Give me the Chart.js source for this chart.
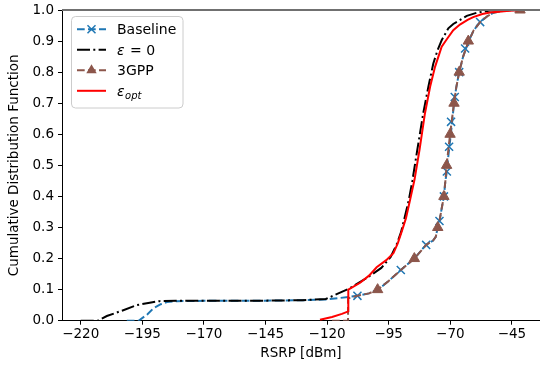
<!DOCTYPE html>
<html>
<head>
<meta charset="utf-8">
<script src="https://cdn.jsdelivr.net/npm/chart.js@4/dist/chart.umd.min.js"></script>
<style>
  html, body { margin: 0; padding: 0; background: #fff; overflow: hidden; }
  canvas { display: block; }
</style>
</head>
<body>
<canvas id="container" width="540" height="366"></canvas>
<script>
const ctx = document.getElementById("container");

// axis ticks
const xTicks = [-220, -195, -170, -145, -120, -95, -70, -45];
const yTicks = [0, 0.1, 0.2, 0.3, 0.4, 0.5, 0.6, 0.7, 0.8, 0.9, 1.0];

// Baseline curve
const baselineX = [-201.3, -196.5, -193, -190.5, -187.5, -185, -181, -170, -150, -130, -121, -115, -107.7, -103, -99.5, -95, -90.1, -84.6, -79.8, -77, -75.9, -75.1, -74.4, -73.3, -72.6, -72.0, -71.4, -70.8, -70.3, -69.8, -69.2, -68.5, -67.6, -66.4, -64.8, -62.7, -60.5, -57.9, -55, -52.6, -47.1, -41.7];
const baselineY = [0, 0, 0.02, 0.04, 0.053, 0.06, 0.063, 0.064, 0.064, 0.066, 0.068, 0.073, 0.08, 0.088, 0.099, 0.128, 0.163, 0.2, 0.244, 0.258, 0.27, 0.3, 0.321, 0.37, 0.4, 0.45, 0.48, 0.53, 0.565, 0.6, 0.644, 0.7, 0.75, 0.8, 0.85, 0.897, 0.935, 0.961, 0.98, 0.991, 0.999, 1.0];
const baselineMarkX = [-107.7, -90.1, -79.8, -74.4, -72.6, -71.4, -70.5, -69.7, -68.2, -66.4, -64.0, -57.9];
const baselineMarkY = [0.08, 0.163, 0.244, 0.321, 0.40, 0.48, 0.56, 0.64, 0.72, 0.80, 0.876, 0.961];

// epsilon = 0 curve
const eps0X = [-220, -213, -209.4, -203, -197.3, -192, -188, -180, -150, -130, -120.5, -111.4, -104, -98, -94.2, -91.8, -90.0, -88.6, -86.8, -85.4, -83.4, -81.0, -78.9, -76.9, -75.2, -73.5, -70.8, -68.8, -66, -63.3, -59.3, -53.9, -47, -41.7];
const eps0Y = [0, 0, 0.015, 0.033, 0.05, 0.058, 0.063, 0.064, 0.064, 0.066, 0.07, 0.102, 0.137, 0.17, 0.205, 0.245, 0.285, 0.33, 0.39, 0.45, 0.55, 0.667, 0.753, 0.828, 0.87, 0.903, 0.941, 0.955, 0.968, 0.981, 0.991, 0.998, 1.0, 1.0];

// 3GPP curve
const gppX = [-118, -111.5, -111.5, -107.7, -103, -99.5, -95, -90.1, -84.6, -79.8, -77, -75.9, -75.1, -74.4, -73.3, -72.6, -72.0, -71.5, -70.8, -70.1, -69.3, -68.5, -67.6, -66.4, -64.8, -62.7, -60.5, -57.9, -55, -52.6, -47.1, -41.7];
const gppY = [0, 0, 0.072, 0.08, 0.088, 0.1, 0.128, 0.163, 0.2, 0.244, 0.258, 0.27, 0.3, 0.321, 0.37, 0.4, 0.45, 0.5, 0.55, 0.6, 0.65, 0.7, 0.75, 0.8, 0.85, 0.897, 0.935, 0.961, 0.98, 0.991, 0.999, 1.0];
const gppMarkX = [-99.5, -84.6, -75.1, -72.6, -71.5, -70.1, -68.5, -66.4, -62.7, -41.7];
const gppMarkY = [0.1, 0.2, 0.3, 0.4, 0.5, 0.6, 0.7, 0.8, 0.9, 1.0];

// epsilon opt curve
const epsOptX = [-122.9, -118, -114, -111.4, -111.4, -106.6, -103, -99.9, -96, -93.1, -91.3, -89.6, -88.0, -86.3, -84.5, -82.5, -80.3, -78.2, -76.2, -73.5, -71.5, -68.8, -66.1, -63, -60.7, -57, -53.9, -47.1, -41.7];
const epsOptY = [0.003, 0.012, 0.022, 0.03, 0.1, 0.122, 0.145, 0.172, 0.195, 0.217, 0.25, 0.29, 0.33, 0.39, 0.455, 0.55, 0.667, 0.753, 0.817, 0.882, 0.905, 0.935, 0.953, 0.968, 0.977, 0.987, 0.992, 0.997, 1.0];

const toPts = (xs, ys) => xs.map((x, i) => ({ x: x, y: ys[i] }));

const blue = "#1f77b4";
const brown = "#8c564b";
const red = "#ff0000";
const font = "DejaVu Sans";

const legendItems = [
  { text: "Baseline", color: blue, dash: [7.7, 3.3], marker: "x" },
  { text: "eps0", color: "#000", dash: [13, 3.3, 2, 3.3], marker: null },
  { text: "3GPP", color: brown, dash: [7.7, 3.3], marker: "tri" },
  { text: "epsopt", color: red, dash: [], marker: null },
];

const mplLegend = {
  id: "mplLegend",
  afterDraw(chart) {
    const c = chart.ctx;
    const area = chart.chartArea;
    c.save();
    // top border line
    c.strokeStyle = "#707070";
    c.lineWidth = 2;
    c.beginPath();
    c.moveTo(area.left, area.top);
    c.lineTo(area.right, area.top);
    c.stroke();

    // legend frame
    const bx = 71.5, by = 16.5, bw = 111.5, bh = 91.5, r = 4;
    c.fillStyle = "rgba(255,255,255,0.8)";
    c.strokeStyle = "#cccccc";
    c.lineWidth = 1;
    c.beginPath();
    c.roundRect(bx, by, bw, bh, r);
    c.fill();
    c.stroke();

    legendItems.forEach((it, i) => {
      const y = 29.3 + i * 20.5;
      c.setLineDash(it.dash);
      c.strokeStyle = it.color;
      c.lineWidth = 2;
      c.beginPath();
      c.moveTo(77, y);
      c.lineTo(106, y);
      c.stroke();
      c.setLineDash([]);
      if (it.marker === "x") {
        c.lineWidth = 1.5;
        c.beginPath();
        c.moveTo(87.5, y - 4); c.lineTo(95.5, y + 4);
        c.moveTo(87.5, y + 4); c.lineTo(95.5, y - 4);
        c.stroke();
      } else if (it.marker === "tri") {
        c.fillStyle = it.color;
        c.beginPath();
        c.moveTo(91.5, y - 6);
        c.lineTo(96.7, y + 3);
        c.lineTo(86.3, y + 3);
        c.closePath();
        c.fill();
      }
      c.fillStyle = "#000";
      c.textBaseline = "alphabetic";
      const base = y + 5;
      if (it.text === "eps0") {
        c.font = "italic 14px '" + font + "'";
        c.fillText("\u03b5", 117, base);
        const w = c.measureText("\u03b5").width;
        c.font = "14px '" + font + "'";
        c.fillText(" = 0", 117 + w + 1, base);
      } else if (it.text === "epsopt") {
        c.font = "italic 14px '" + font + "'";
        c.fillText("\u03b5", 117, base);
        const w = c.measureText("\u03b5").width;
        c.font = "italic 10px '" + font + "'";
        c.fillText("opt", 117 + w + 0.5, base + 3);
      } else {
        c.font = "14px '" + font + "'";
        c.fillText(it.text, 117, base);
      }
    });
    c.restore();
  },
};

const myChart = new Chart(ctx, {
  type: "scatter",
  data: {
    datasets: [
      {
        label: "Baseline",
        data: toPts(baselineX, baselineY),
        showLine: true,
        borderColor: blue,
        borderWidth: 2,
        borderDash: [7.7, 3.3],
        pointRadius: 0,
        clip: 0,
        order: 6,
      },
      {
        label: "Baseline markers",
        data: toPts(baselineMarkX, baselineMarkY),
        showLine: false,
        pointStyle: "crossRot",
        pointRadius: 5.7,
        pointBorderColor: blue,
        pointBorderWidth: 1.5,
        clip: 0,
        order: 5,
      },
      {
        label: "eps0",
        data: toPts(eps0X, eps0Y),
        showLine: true,
        borderColor: "#000",
        borderWidth: 2,
        borderDash: [13, 3.3, 2, 3.3],
        pointRadius: 0,
        clip: 0,
        order: 4,
      },
      {
        label: "3GPP",
        data: toPts(gppX, gppY),
        showLine: true,
        borderColor: brown,
        borderWidth: 2,
        borderDash: [7.7, 3.3],
        pointRadius: 0,
        clip: 0,
        order: 3,
      },
      {
        label: "3GPP markers",
        data: toPts(gppMarkX, gppMarkY),
        showLine: false,
        pointStyle: "triangle",
        pointRadius: 6,
        pointBackgroundColor: brown,
        pointBorderColor: brown,
        pointBorderWidth: 1,
        clip: 0,
        order: 2,
      },
      {
        label: "epsopt",
        data: toPts(epsOptX, epsOptY),
        showLine: true,
        borderColor: red,
        borderWidth: 2,
        pointRadius: 0,
        clip: 0,
        order: 1,
      },
    ],
  },
  options: {
    responsive: false,
    animation: false,
    layout: { autoPadding: false, padding: { top: 10, right: 0, bottom: 0, left: 0 } },
    plugins: {
      legend: { display: false },
      tooltip: { enabled: false },
    },
    scales: {
      x: {
        type: "linear",
        min: -227.6,
        max: -33.6,
        afterBuildTicks: (scale) => {
          scale.ticks = xTicks.map((v) => ({ value: v }));
        },
        afterFit: (scale) => {
          scale.height = 45.3;
          scale.paddingLeft = 0;
          scale.paddingRight = 0;
        },
        grid: { drawOnChartArea: false, drawTicks: true, tickLength: 4, tickColor: "#000", tickWidth: 1 },
        border: { display: true, color: "#000", width: 1 },
        ticks: {
          color: "#000",
          padding: 2,
          font: { family: font, size: 13.5 },
          callback: (v) => String(v).replace("-", "\u2212"),
        },
        title: {
          display: true,
          text: "RSRP [dBm]",
          color: "#000",
          font: { family: font, size: 13.5 },
          padding: { top: 0, bottom: 4 },
        },
      },
      y: {
        type: "linear",
        min: 0,
        max: 1,
        afterBuildTicks: (scale) => {
          scale.ticks = yTicks.map((v) => ({ value: v }));
        },
        afterFit: (scale) => {
          scale.width = 62;
          scale.paddingTop = 0;
          scale.paddingBottom = 0;
        },
        grid: { drawOnChartArea: false, drawTicks: true, tickLength: 4, tickColor: "#000", tickWidth: 1 },
        border: { display: true, color: "#000", width: 1 },
        ticks: {
          color: "#000",
          padding: 4,
          font: { family: font, size: 13.5 },
          callback: (v) => v.toFixed(1),
        },
        title: {
          display: true,
          text: "Cumulative Distribution Function",
          color: "#000",
          font: { family: font, size: 13.5 },
          padding: { top: 6, bottom: 0 },
        },
      },
    },
  },
  plugins: [mplLegend],
});
</script>
</body>
</html>
